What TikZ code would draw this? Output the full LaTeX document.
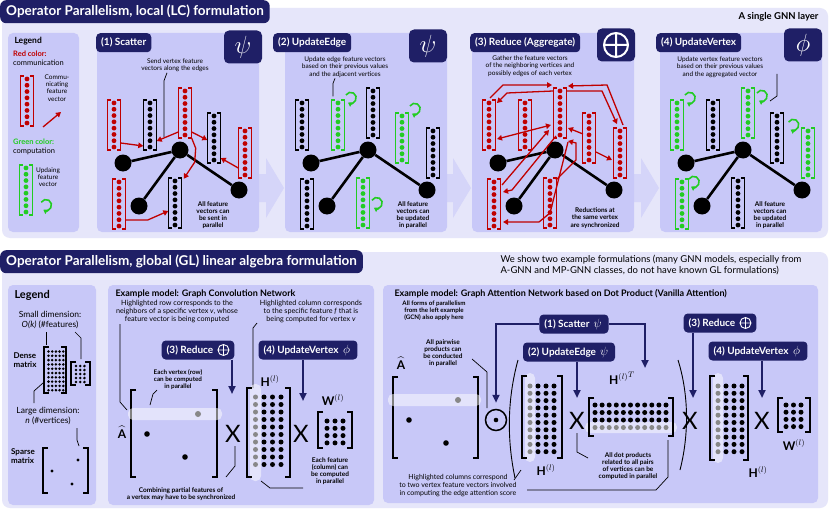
\documentclass[tikz,border=0pt]{standalone}
\usepackage{fontspec}
\setmainfont{Lato}
\usepackage{amsmath,amssymb}
\usetikzlibrary{arrows.meta,positioning,calc}
\definecolor{navy}{HTML}{1F1F66}
\definecolor{outerbg}{HTML}{E6E6FA}
\definecolor{panelbg}{HTML}{C8C8F8}
\definecolor{redc}{HTML}{C00000}
\definecolor{greenc}{HTML}{22CC22}
\definecolor{grayd}{HTML}{888888}
\tikzset{
  ttlbox/.style  = {fill=navy, text=white, rounded corners=6pt, inner xsep=6pt,
                    minimum height=23pt, anchor=north west,
                    font=\fontsize{13.5}{15}\selectfont\bfseries},
  hbox/.style    = {fill=navy, text=white, rounded corners=4pt, inner xsep=5pt,
                    minimum height=19pt, font=\fontsize{10}{12}\selectfont\bfseries},
  symbox/.style  = {fill=navy, text=white, rounded corners=5pt, minimum width=38pt,
                    minimum height=33pt, font=\fontsize{24}{24}\selectfont},
  note/.style    = {align=center, font=\fontsize{6.5}{7.2}\selectfont, inner sep=1pt},
  bnote/.style   = {note, font=\fontsize{6.5}{7.2}\selectfont\bfseries},
  snote/.style   = {note, font=\fontsize{7.2}{8}\selectfont},
  lead/.style    = {line width=0.7pt},
  gv/.style      = {circle, fill=black, minimum size=17pt, inner sep=0pt},
  tedge/.style   = {line width=2.6pt},
  vecbox/.style  = {minimum width=13pt, minimum height=50pt, inner sep=0pt},
  brk/.style     = {line width=1.5pt},
  redarr/.style  = {draw=redc, line width=1.3pt, -{Triangle[length=5pt,width=5.5pt]}},
  looparr/.style = {draw=greenc, line width=1.6pt, -{Triangle[length=4pt,width=5pt]}},
  opar/.style    = {draw=navy, line width=2pt, -{Triangle[length=8pt,width=7pt]}},
  bigx/.style    = {font=\fontsize{24}{24}\selectfont, inner sep=0pt},
  mlabel/.style  = {font=\fontsize{12}{12}\selectfont, inner sep=0pt},
  band/.style    = {fill=white, fill opacity=0.5, rounded corners=5pt},
  chev/.style    = {fill=panelbg!55!outerbg},
  hsym/.style    = {text=white, font=\fontsize{12}{12}\selectfont, inner sep=0pt},
}
% feature vector: name, centre, colour
\newcommand{\fvec}[3]{%
  \node[vecbox] (#1) at (#2) {};
  \draw[brk,#3] ([xshift=3.5pt]#1.north west) -- (#1.north west) -- (#1.south west) -- ([xshift=3.5pt]#1.south west);
  \draw[brk,#3] ([xshift=-3.5pt]#1.north east) -- (#1.north east) -- (#1.south east) -- ([xshift=-3.5pt]#1.south east);
  \foreach \k [evaluate=\k as \fr using (\k+0.5)/8] in {0,...,7}
    \fill[#3] ($(#1.north)!\fr!(#1.south)$) circle (2.4pt);
}
\newcommand{\loopar}[1]{\draw[looparr] #1 ++(150:5.5pt) arc[start angle=150, end angle=-120, radius=5.5pt];}
% graph of one stage: prefix, x0, vertex-vector colour, edge-vector colour
\newcommand{\stagegraph}[4]{%
  \node[gv] (#1v1) at (#2+26,163) {};
  \node[gv] (#1v2) at (#2+83,150) {};
  \node[gv] (#1v3) at (#2+42,206) {};
  \node[gv] (#1v4) at (#2+142,190) {};
  \draw[tedge] (#1v1) -- (#1v2) -- (#1v4);
  \draw[tedge] (#1v2) -- (#1v3);
  \fvec{#1a}{#2+17,125}{#3}
  \fvec{#1b}{#2+53,125}{#4}
  \fvec{#1c}{#2+88,113}{#3}
  \fvec{#1d}{#2+117,138}{#4}
  \fvec{#1e}{#2+148,153}{#3}
  \fvec{#1f}{#2+22,204}{#3}
  \fvec{#1g}{#2+78,203}{#4}
}
\newcommand{\dotgrid}[8][black]{%
  \foreach \i in {0,...,#4} \foreach \j in {0,...,#5}
    \fill[#1] ({#2+\i*#6},{#3+\j*#7}) circle (#8);
}
\newcommand{\mbr}[5][2.4pt]{%
  \draw[line width=#1] ({#2+5},#3) -- (#2,#3) -- (#2,#5) -- ({#2+5},#5);
  \draw[line width=#1] ({#4-5},#3) -- (#4,#3) -- (#4,#5) -- ({#4-5},#5);
}
\newcommand{\boxoplus}[1]{\draw[white, line width=0.9pt] ([xshift=-11pt]#1.east) circle (5.5pt)
  ([xshift=-16.5pt]#1.east) -- ([xshift=-5.5pt]#1.east)
  ([xshift=-11pt,yshift=5.5pt]#1.east) -- ([xshift=-11pt,yshift=-5.5pt]#1.east);}

\begin{document}
\begin{tikzpicture}[x=1pt,y=-1pt]
\useasboundingbox (0,0) rectangle (830,511);
\fill[white] (0,0) rectangle (830,511);

% ---------- local formulation ----------
\fill[outerbg, rounded corners=8pt] (2,8) rectangle (828,238);
\node[ttlbox] (ttl1) at (0,0) {Operator Parallelism, local (LC) formulation};
\node[font=\fontsize{9.5}{11}\selectfont\bfseries, anchor=east] (layer) at (822,17) {A single GNN layer};
\foreach \cx in {285,472,660}
  \fill[chev] (\cx-28,174) -- (\cx-19,174) -- (\cx-19,158) -- (\cx-1,188) -- (\cx-19,218) -- (\cx-19,202) -- (\cx-28,202) -- cycle;
\fill[panelbg, rounded corners=5pt] (8,33) rectangle (79,232);
\foreach \xo in {97,285,472,660}
  \fill[panelbg, rounded corners=5pt] (\xo,33) rectangle (\xo+162,232);

\node[hbox, anchor=north west] (h1) at (96,33) {(1) Scatter};
\node[hbox, anchor=north west] (h2) at (273,33) {(2) UpdateEdge};
\node[hbox, anchor=north west] (h3) at (470,33) {(3) Reduce (Aggregate)};
\node[hbox, anchor=north west] (h4) at (656,33) {(4) UpdateVertex};
\node[symbox] (y1) at (243,47) {$\psi$};
\node[symbox] (y2) at (428,46) {$\psi$};
\node[symbox] (y3) at (616,45) {};
\node[symbox] (y4) at (803,45) {$\phi$};
\draw[white, line width=2pt] (y3) circle (12pt)
  ([yshift=12pt]y3.center) -- ([yshift=-12pt]y3.center)
  ([xshift=-12pt]y3.center) -- ([xshift=12pt]y3.center);

% legend
\node[font=\fontsize{8.5}{9}\selectfont\bfseries, anchor=west] (lg1) at (11,41) {Legend};
\node[font=\fontsize{7.5}{8.8}\selectfont, anchor=north west, align=left, inner sep=1pt] (lgr) at (12,50)
  {\textcolor{redc}{\bfseries Red color:}\\communication};
\fvec{lgrv}{27,101}{redc}
\node[note] (lgrt) at (57,88) {Commu-\\nicating\\feature\\vector};
\coordinate (lgra) at (43,127);
\draw[redarr] (lgra) -- ++(18,-15);
\node[font=\fontsize{7.5}{8.8}\selectfont, anchor=north west, align=left, inner sep=1pt] (lgg) at (12,138)
  {\textcolor{greenc}{\bfseries Green color:}\\computation};
\fvec{lggv}{26,190}{greenc}
\node[note] (lggt) at (48,177) {Updaing\\feature\\vector};
\loopar{(46,205)}

% stage graphs
\stagegraph{s1}{97}{redc}{black}
\stagegraph{s2}{285}{black}{greenc}
\stagegraph{s3}{472}{redc}{redc}
\stagegraph{s4}{660}{greenc}{black}

% (1) scatter
\node[note] (n1) at (175,65) {Send vertex feature\\vectors along the edges};
\draw[lead] ([xshift=-8pt]n1.south) -- ++(-3,8) -- (164,137);
\draw[redarr] ([yshift=-18pt]s1a.east) -- ([yshift=-21pt]s1b.west);
\draw[redarr] ([yshift=-19pt]s1c.west) -- ([yshift=-16pt]s1b.east);
\draw[redarr] ([yshift=-19pt]s1c.east) -- ([yshift=-2pt]s1d.west);
\draw[redarr] (s1c.south east) -- ++(4,10) -- ++(-1,14) -- ([xshift=2pt,yshift=-1pt]s1g.north east);
\draw[redarr] ([yshift=-15pt]s1e.west) -- ([yshift=-20pt]s1d.east);
\draw[redarr] ([yshift=-16pt]s1f.east) -- ++(22,0) -- ([yshift=-8pt]s1g.west);
\node[bnote] (b1) at (213,215) {All feature\\vectors can\\be sent in\\parallel};

% (2) update edge
\node[note] (n2) at (345,67) {Update edge feature vectors\\based on their previous values\\and the adjacent vertices};
\draw[lead] ([xshift=-10pt]n2.south) -- ++(-2,5) -- ++(0,13);
\loopar{([xshift=6pt,yshift=2pt]s2b.north east)}
\loopar{([xshift=6pt,yshift=4pt]s2d.north east)}
\loopar{([xshift=7pt]s2g.east)}
\node[bnote] (b2) at (413,215) {All feature\\vectors can\\be updated\\in parallel};

% (3) reduce
\node[note] (n3) at (530,66) {Gather the feature vectors\\of the neighboring vertices and\\possibly edges of each vertex};
\draw[redarr] (553,91) -- (507,93) -- (497,103);
\draw[redarr] (490,98) -- (503,85) -- (552,85);
\draw[redarr] (567,91) -- (602,91) -- (617,124);
\draw[redarr] (623,125) -- (607,85) -- (568,86);
\draw[draw=redc, line width=1.3pt, {Triangle[length=5pt,width=5.5pt]}-{Triangle[length=5pt,width=5.5pt]}] (497,139) -- (551,125);
\draw[redarr] (583,134) -- (568,128);
\draw[redarr] (596,152) -- (612,160);
\draw[redarr] (556,136) -- (512,190) -- (503,192);
\draw[redarr] (502,185) -- (549,130);
\draw[redarr] (556,180) -- (576,160) -- (576,143) -- (568,141);
\draw[redarr] (568,142) -- (550,213) -- (539,222) -- (503,222);
\node[bnote] (b3) at (595,218) {Reductions at\\the same vertex\\are synchronized};

% (4) update vertex
\node[note] (n4) at (720,67) {Update vertex feature vectors\\based on their previous values\\and the aggregated vector};
\draw[lead] (777,74) -- (777,96) -- (770,101);
\loopar{([xshift=6pt,yshift=2pt]s4a.north east)}
\loopar{([xshift=7pt,yshift=-8pt]s4c.north east)}
\loopar{([xshift=-8pt,yshift=3pt]s4e.north west)}
\loopar{([xshift=5pt,yshift=-3pt]s4f.north east)}
\node[bnote] (b4) at (770,215) {All feature\\vectors can\\be updated\\in parallel};

% ---------- global formulation ----------
\fill[outerbg, rounded corners=8pt] (2,252) rectangle (828,508);
\node[ttlbox] (ttl2) at (0,250) {Operator Parallelism, global (GL) linear algebra formulation};
\node[anchor=west, align=left, font=\fontsize{9.5}{11.5}\selectfont] (intro) at (497,265)
  {We show two example formulations (many GNN models, especially from\\A-GNN and MP-GNN classes, do not have known GL formulations)};
\fill[panelbg, rounded corners=5pt] (8,285) rectangle (96,505);
\fill[panelbg, rounded corners=5pt] (108,285) rectangle (374,505);
\fill[panelbg, rounded corners=5pt] (383,285) rectangle (818,503);

% legend
\node[font=\fontsize{11}{12}\selectfont\bfseries, anchor=west] (lg2) at (11,295) {Legend};
\node[font=\fontsize{8.5}{10}\selectfont, align=center] (lgsm) at (50,320) {Small dimension:\\\textit{O(k)} (\#features)};
\draw[lead] (46,332) -- (46,345);
\draw[lead] (75,332) -- (81,338) -- (81,359);
\mbr[1.6pt]{44}{347}{66}{393}
\dotgrid{48.5}{351.5}{4}{9}{3.7}{4.3}{1.4pt}
\mbr[1.6pt]{71}{362}{90}{385}
\dotgrid{76}{366}{2}{4}{4.2}{4}{1.4pt}
\node[font=\fontsize{8}{9.5}\selectfont\bfseries, align=left] (lgdn) at (25,360) {Dense\\matrix};
\draw[lead] (43,383) -- (34,391) -- (34,403);
\node[font=\fontsize{8.5}{10}\selectfont, align=center] (lglg) at (48,416) {Large dimension:\\\textit{n} (\#vertices)};
\draw[lead] (77,428) -- (77,440) -- (79,446);
\mbr[1.6pt]{43}{448}{88}{493}
\fill (52,471) circle (1.7pt);
\fill (78,460) circle (1.7pt);
\fill (72,484) circle (1.7pt);
\node[font=\fontsize{8}{9.5}\selectfont\bfseries, align=left] (lgsp) at (23,456) {Sparse\\matrix};

% GCN
\node[font=\fontsize{9}{10}\selectfont\bfseries, anchor=west] (gcnt) at (112,294) {Example model: Graph Convolution Network};
\node[snote] (gn1) at (177,312) {Highlighted row corresponds to the\\neighbors of a specific vertex \textit{v}, whose\\feature vector is being computed};
\node[snote] (gn2) at (311,312) {Highlighted column corresponds\\to the specific feature \textit{f} that is\\being computed for vertex \textit{v}};
\draw[lead] (120,324) -- (120,402) -- (127,410);
\draw[lead] (257,323) -- (253,328) -- (253,388);
\node[hbox] (gred) at (198,350) {(3) Reduce\hspace*{16pt}};
\boxoplus{gred}
\node[hbox] (gupv) at (308,350) {(4) UpdateVertex\hspace*{14pt}};
\node[hsym] (gupvs) at ([xshift=-11pt]gupv.east) {$\phi$};
\coordinate (gxa) at (232,394);
\coordinate (gxb) at (303,401);
\draw[opar] (gred.south -| gxa) -- (gxa);
\draw[opar] (gupv.south -| gxb) -- (gxb);
\node[mlabel] (ga) at (122,432) {$\widehat{\mathbf{A}}$};
\mbr{131}{390}{217}{477}
\fill[band] (128,408) rectangle (222,420);
\fill[grayd] (198,414) circle (3pt);
\fill (147,434) circle (2.8pt);
\fill (185,457) circle (2.8pt);
\node[bnote, font=\fontsize{6.3}{7}\selectfont\bfseries] (gn3) at (178,380) {Each vertex (row)\\can be computed\\in parallel};
\draw[lead] (157,390) -- (153,394) -- (150,405);
\node[bigx] (gx1) at (233,434) {X};
\fill[band] (250,384) rectangle (261,481);
\mbr{247}{388}{290}{477}
\dotgrid[grayd]{255.5}{397}{0}{9}{8.5}{7.5}{2.5pt}
\dotgrid{264}{397}{2}{9}{8.5}{7.5}{2.5pt}
\node[mlabel] (ghl) at (270,381) {$\mathbf{H}^{(l)}$};
\node[bigx] (gx2) at (301,434) {X};
\mbr{318}{412}{352}{448}
\dotgrid{327}{421}{2}{3}{8}{7.3}{2.5pt}
\node[mlabel] (gwl) at (333,400) {$\mathbf{W}^{(l)}$};
\node[bnote] (gn4) at (330,471) {Each feature\\(column) can\\be computed\\in parallel};
\draw[lead] (261,481) -- (270,488) -- (303,488);
\node[bnote] (gn5) at (181,494) {Combining partial features of\\a vertex may have to be synchronized};
\draw[lead] (235,446) -- (235,466) -- (226,477);

% GAT
\node[font=\fontsize{9}{10}\selectfont\bfseries, anchor=west] (gatt) at (391,294) {Example model: Graph Attention Network based on Dot Product (Vanilla Attention)};
\node[bnote, font=\fontsize{6.2}{7}\selectfont\bfseries] (at1) at (434,311) {All forms of parallelism\\from the left example\\(GCN) also apply here};
\node[hbox] (gsc) at (574,324) {(1) Scatter\hspace*{14pt}};
\node[hsym] (gscs) at ([xshift=-11pt]gsc.east) {$\psi$};
\node[hbox] (gue) at (569,352) {(2) UpdateEdge\hspace*{14pt}};
\node[hsym] (gues) at ([xshift=-11pt]gue.east) {$\psi$};
\node[hbox] (grd) at (720,323) {(3) Reduce\hspace*{16pt}};
\boxoplus{grd}
\node[hbox] (guv) at (758,351) {(4) UpdateVertex\hspace*{14pt}};
\node[hsym] (guvs) at ([xshift=-11pt]guv.east) {$\phi$};
\node[circle, draw, line width=1.5pt, minimum size=21pt, inner sep=0pt] (god) at (496,420) {};
\fill (god) circle (2.3pt);
\coordinate (ght) at (645,368);
\coordinate (gx3a) at (577,398);
\coordinate (gx4a) at (693,398);
\coordinate (gx5a) at (762,398);
\draw[opar] (gsc.west) -| ([yshift=6pt]god.north);
\draw[opar] (gsc.east) -| (ght);
\draw[opar] (gue.south -| gx3a) -- (gx3a);
\draw[opar] (grd.south -| gx4a) -- (gx4a);
\draw[opar] (guv.south -| gx5a) -- (gx5a);
\node[mlabel] (ga2) at (401,363) {$\widehat{\mathbf{A}}$};
\mbr{393}{377}{478}{458}
\fill[band] (388,394) rectangle (481,406);
\fill[grayd] (458,400) circle (3pt);
\fill (409,420) circle (2.8pt);
\fill (446,443) circle (2.8pt);
\node[bnote] (at2) at (443,353) {All pairwise\\products can\\be conducted\\in parallel};
\draw[lead] (472,359) -- (487,372) -- (487,408);
\draw[line width=0.9pt] (518,360) .. controls (507,400) and (507,440) .. (515,478);
\draw[line width=0.9pt] (678,360) .. controls (689,395) and (689,435) .. (680,470);
\fill[band] (525,373) rectangle (535,462);
\mbr{522}{376}{562}{458}
\dotgrid[grayd]{530}{386}{0}{9}{8}{7.3}{2.5pt}
\dotgrid{538}{386}{2}{9}{8}{7.3}{2.5pt}
\node[mlabel] (ghl2) at (546,470) {$\mathbf{H}^{(l)}$};
\node[bigx] (gx3) at (577,421) {X};
\fill[band] (585,422) rectangle (677,433);
\mbr{589}{398}{673}{436}
\dotgrid{595}{405}{10}{2}{7.1}{7.5}{2.5pt}
\dotgrid[grayd]{595}{427.5}{10}{0}{7.1}{7.5}{2.5pt}
\node[mlabel] (ghtl) at (622,378) {${\mathbf{H}^{(l)}}^{T}$};
\node[bnote] (at3) at (628,466) {All dot products\\related to all pairs\\of vertices can be\\computed in parallel};
\draw[lead] (577,433) -- (577,452) -- (588,458);
\draw[lead] (668,440) -- (668,477) -- (656,490) -- (527,490);
\node[snote, font=\fontsize{7}{8}\selectfont] (at4) at (458,486) {Highlighted columns correspond\\to two vertex feature vectors involved\\in computing the edge attention score};
\draw[lead] (514,480) -- (521,470);
\node[bigx] (gx4) at (690,421) {X};
\fill[band] (713,373) rectangle (723,463);
\mbr{710}{376}{748}{460}
\dotgrid[grayd]{718}{386}{0}{9}{8}{7.3}{2.5pt}
\dotgrid{726}{386}{2}{9}{8}{7.3}{2.5pt}
\node[mlabel] (ghl3) at (758,472) {$\mathbf{H}^{(l)}$};
\node[bigx] (gx5) at (762,421) {X};
\mbr{778}{398}{810}{432}
\dotgrid{786}{405}{2}{3}{7.5}{7.2}{2.5pt}
\node[mlabel] (gwl2) at (794,445) {$\mathbf{W}^{(l)}$};
\end{tikzpicture}
\end{document}
